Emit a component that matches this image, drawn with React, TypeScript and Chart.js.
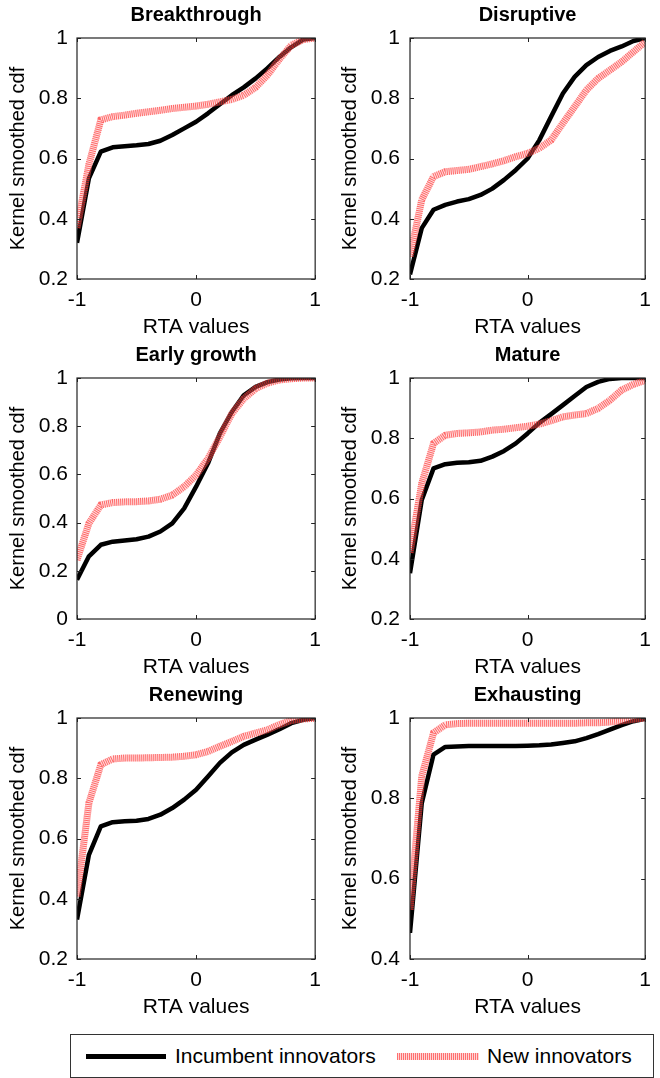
import React, { useEffect, useRef } from "react";
import { Chart, registerables } from "chart.js";

Chart.register(...registerables);

const FONT = '"Liberation Sans", Arial, Helvetica, sans-serif';

// Evaluation grid of RTA values (x axis)
const RTA = [-1, -0.9, -0.8, -0.7, -0.6, -0.5, -0.4, -0.3, -0.2, -0.1, 0, 0.1, 0.2, 0.3, 0.4, 0.5, 0.6, 0.7, 0.8, 0.9, 1];
const X_TICKS = [-1, 0, 1];

// Kernel smoothed cdf per technology phase
const breakthroughIncumbent = [0.32, 0.534, 0.623, 0.637, 0.641, 0.644, 0.648, 0.659, 0.678, 0.7, 0.722, 0.75, 0.78, 0.81, 0.836, 0.866, 0.9, 0.937, 0.97, 0.995, 1.0];
const breakthroughNew = [0.37, 0.58, 0.728, 0.739, 0.744, 0.75, 0.755, 0.76, 0.766, 0.77, 0.774, 0.78, 0.788, 0.796, 0.81, 0.836, 0.877, 0.93, 0.976, 0.995, 1.0];

const disruptiveIncumbent = [0.215, 0.369, 0.43, 0.446, 0.457, 0.465, 0.479, 0.5, 0.529, 0.562, 0.6, 0.661, 0.739, 0.816, 0.871, 0.91, 0.937, 0.957, 0.972, 0.99, 1.0];
const disruptiveNew = [0.275, 0.463, 0.54, 0.556, 0.56, 0.564, 0.573, 0.582, 0.593, 0.606, 0.617, 0.634, 0.661, 0.717, 0.772, 0.827, 0.866, 0.893, 0.921, 0.954, 0.987];

const earlyGrowthIncumbent = [0.163, 0.26, 0.308, 0.321, 0.326, 0.331, 0.342, 0.363, 0.397, 0.459, 0.549, 0.646, 0.77, 0.859, 0.928, 0.963, 0.983, 0.994, 0.999, 1.0, 1.0];
const earlyGrowthNew = [0.245, 0.397, 0.473, 0.483, 0.486, 0.487, 0.49, 0.497, 0.514, 0.549, 0.597, 0.666, 0.756, 0.852, 0.914, 0.956, 0.979, 0.992, 0.997, 1.0, 1.0];

const matureIncumbent = [0.352, 0.595, 0.7, 0.714, 0.719, 0.72, 0.725, 0.739, 0.758, 0.783, 0.816, 0.851, 0.88, 0.91, 0.94, 0.97, 0.987, 0.997, 1.0, 1.0, 1.0];
const matureNew = [0.42, 0.65, 0.783, 0.81, 0.816, 0.818, 0.821, 0.827, 0.83, 0.835, 0.84, 0.847, 0.858, 0.871, 0.877, 0.882, 0.899, 0.926, 0.96, 0.979, 0.992];

const renewingIncumbent = [0.331, 0.546, 0.64, 0.654, 0.657, 0.659, 0.665, 0.679, 0.701, 0.729, 0.762, 0.806, 0.851, 0.886, 0.911, 0.928, 0.945, 0.963, 0.983, 0.994, 1.0];
const renewingNew = [0.408, 0.718, 0.845, 0.864, 0.867, 0.867, 0.868, 0.869, 0.87, 0.873, 0.878, 0.889, 0.906, 0.922, 0.939, 0.95, 0.961, 0.978, 0.992, 0.997, 0.999];

const exhaustingIncumbent = [0.465, 0.788, 0.909, 0.928, 0.929, 0.93, 0.93, 0.93, 0.93, 0.93, 0.931, 0.932, 0.934, 0.938, 0.942, 0.95, 0.96, 0.971, 0.982, 0.992, 0.998];
const exhaustingNew = [0.523, 0.855, 0.963, 0.983, 0.986, 0.987, 0.987, 0.987, 0.987, 0.987, 0.987, 0.987, 0.987, 0.987, 0.987, 0.988, 0.988, 0.99, 0.993, 0.997, 1.0];

const Y_TICKS_02 = [0.2, 0.4, 0.6, 0.8, 1];
const Y_TICKS_0 = [0, 0.2, 0.4, 0.6, 0.8, 1];
const Y_TICKS_04 = [0.4, 0.6, 0.8, 1];

const PANELS = [
  { title: "Breakthrough", incumbent: breakthroughIncumbent, newcomers: breakthroughNew, yTicks: Y_TICKS_02 },
  { title: "Disruptive", incumbent: disruptiveIncumbent, newcomers: disruptiveNew, yTicks: Y_TICKS_02 },
  { title: "Early growth", incumbent: earlyGrowthIncumbent, newcomers: earlyGrowthNew, yTicks: Y_TICKS_0 },
  { title: "Mature", incumbent: matureIncumbent, newcomers: matureNew, yTicks: Y_TICKS_02 },
  { title: "Renewing", incumbent: renewingIncumbent, newcomers: renewingNew, yTicks: Y_TICKS_02 },
  { title: "Exhausting", incumbent: exhaustingIncumbent, newcomers: exhaustingNew, yTicks: Y_TICKS_04 },
];

// Thick dotted red stroke: red bars over a faint pink band
const RED = "rgba(255, 30, 30, 0.62)";
const PINK = "rgba(255, 150, 150, 0.3)";

// Axes box with small inward ticks on all four sides
const boxPlugin = {
  id: "boxTicks",
  afterDatasetsDraw(chart: any) {
    const { ctx, chartArea: a, scales } = chart;
    const len = 4;
    ctx.save();
    ctx.strokeStyle = "#222";
    ctx.lineWidth = 1.2;
    ctx.strokeRect(a.left, a.top, a.right - a.left, a.bottom - a.top);
    ctx.lineWidth = 1;
    ctx.beginPath();
    for (const t of scales.x.ticks) {
      const px = Math.round(scales.x.getPixelForValue(t.value)) + 0.5;
      ctx.moveTo(px, a.bottom);
      ctx.lineTo(px, a.bottom - len);
      ctx.moveTo(px, a.top);
      ctx.lineTo(px, a.top + len);
    }
    for (const t of scales.y.ticks) {
      const py = Math.round(scales.y.getPixelForValue(t.value)) + 0.5;
      ctx.moveTo(a.left, py);
      ctx.lineTo(a.left + len, py);
      ctx.moveTo(a.right, py);
      ctx.lineTo(a.right - len, py);
    }
    ctx.stroke();
    ctx.restore();
  },
};

function Panel({ cfg, col, left, top }: any) {
  const ref = useRef<HTMLCanvasElement>(null);
  useEffect(() => {
    const toPoints = (vals: number[]) => RTA.map((x, i) => ({ x, y: vals[i] }));
    const yTicks: number[] = cfg.yTicks;
    const lineCommon = { pointRadius: 0, tension: 0 };
    const chart = new Chart(ref.current as HTMLCanvasElement, {
      type: "line",
      data: {
        datasets: [
          {
            ...lineCommon,
            label: "New innovators",
            data: toPoints(cfg.newcomers),
            borderColor: RED,
            borderWidth: 7,
            borderDash: [1, 1],
            borderCapStyle: "butt",
            order: 0,
          },
          {
            ...lineCommon,
            label: "New innovators band",
            data: toPoints(cfg.newcomers),
            borderColor: PINK,
            borderWidth: 7,
            borderCapStyle: "butt",
            order: 1,
          },
          {
            ...lineCommon,
            label: "Incumbent innovators",
            data: toPoints(cfg.incumbent),
            borderColor: "#000",
            borderWidth: 4.5,
            borderJoinStyle: "round",
            order: 2,
          },
        ],
      },
      options: {
        responsive: false,
        animation: false,
        devicePixelRatio: 1,
        events: [],
        layout: { padding: { left: 0, right: col === 0 ? 9 : 5, top: 0, bottom: 0 } },
        plugins: {
          legend: { display: false },
          tooltip: { enabled: false },
          title: {
            display: true,
            fullSize: false,
            text: cfg.title,
            color: "#000",
            font: { family: FONT, size: 20, weight: "bold" },
            padding: { top: 3, bottom: 11 },
          },
        },
        scales: {
          x: {
            type: "linear",
            min: -1,
            max: 1,
            afterBuildTicks: (s: any) => {
              s.ticks = X_TICKS.map((v) => ({ value: v }));
            },
            afterFit: (s: any) => {
              s.height = 61;
            },
            grid: { display: false, drawTicks: false },
            border: { display: false },
            ticks: {
              color: "#000",
              font: { family: FONT, size: 21 },
              padding: 9,
              maxRotation: 0,
              autoSkip: false,
              callback: (v: any) => String(v),
            },
            title: {
              display: true,
              text: "RTA values",
              color: "#000",
              font: { family: FONT, size: 21 },
              padding: { top: 0, bottom: 0 },
            },
          },
          y: {
            type: "linear",
            min: yTicks[0],
            max: 1,
            afterBuildTicks: (s: any) => {
              s.ticks = yTicks.map((v) => ({ value: v }));
            },
            afterFit: (s: any) => {
              s.width = col === 0 ? 77 : 80;
            },
            grid: { display: false, drawTicks: false },
            border: { display: false },
            ticks: {
              color: "#000",
              font: { family: FONT, size: 21 },
              padding: col === 0 ? 9 : 10,
              autoSkip: false,
              callback: (v: any) => String(v),
            },
            title: {
              display: true,
              text: "Kernel smoothed cdf",
              color: "#000",
              font: { family: FONT, size: 20 },
              padding: { top: col === 0 ? 6.5 : 8, bottom: 0 },
            },
          },
        },
      },
      plugins: [boxPlugin],
    } as any);
    return () => chart.destroy();
  }, []);
  return (
    <canvas
      ref={ref}
      width={330}
      height={340}
      style={{ position: "absolute", left, top, width: 330, height: 340 }}
    />
  );
}

function Legend() {
  const text: React.CSSProperties = {
    position: "absolute",
    top: 0,
    height: "100%",
    display: "flex",
    alignItems: "center",
    fontFamily: FONT,
    fontSize: 21,
    color: "#000",
    whiteSpace: "nowrap",
  };
  return (
    <div
      style={{
        position: "absolute",
        left: 70,
        top: 1034,
        width: 584,
        height: 44,
        border: "1.5px solid #333",
        boxSizing: "border-box",
        background: "#fff",
      }}
    >
      <div style={{ position: "absolute", left: 15, top: 19, width: 80, height: 5, background: "#000" }} />
      <div style={{ ...text, left: 104 }}>Incumbent innovators</div>
      <div
        style={{
          position: "absolute",
          left: 326,
          top: 18,
          width: 82,
          height: 7,
          backgroundColor: "#ffd6d6",
          backgroundImage: "repeating-linear-gradient(to right, #ff7070 0px, #ff7070 1px, #ffd6d6 1px, #ffd6d6 2px)",
        }}
      />
      <div style={{ ...text, left: 416 }}>New innovators</div>
    </div>
  );
}

export default function App() {
  return (
    <div style={{ position: "absolute", left: 0, top: 0, width: 660, height: 1078, background: "#fff", overflow: "hidden" }}>
      {PANELS.map((cfg, i) => {
        const col = i % 2;
        const row = Math.floor(i / 2);
        return <Panel key={cfg.title} cfg={cfg} col={col} left={col * 330} top={row * 340} />;
      })}
      <Legend />
    </div>
  );
}
